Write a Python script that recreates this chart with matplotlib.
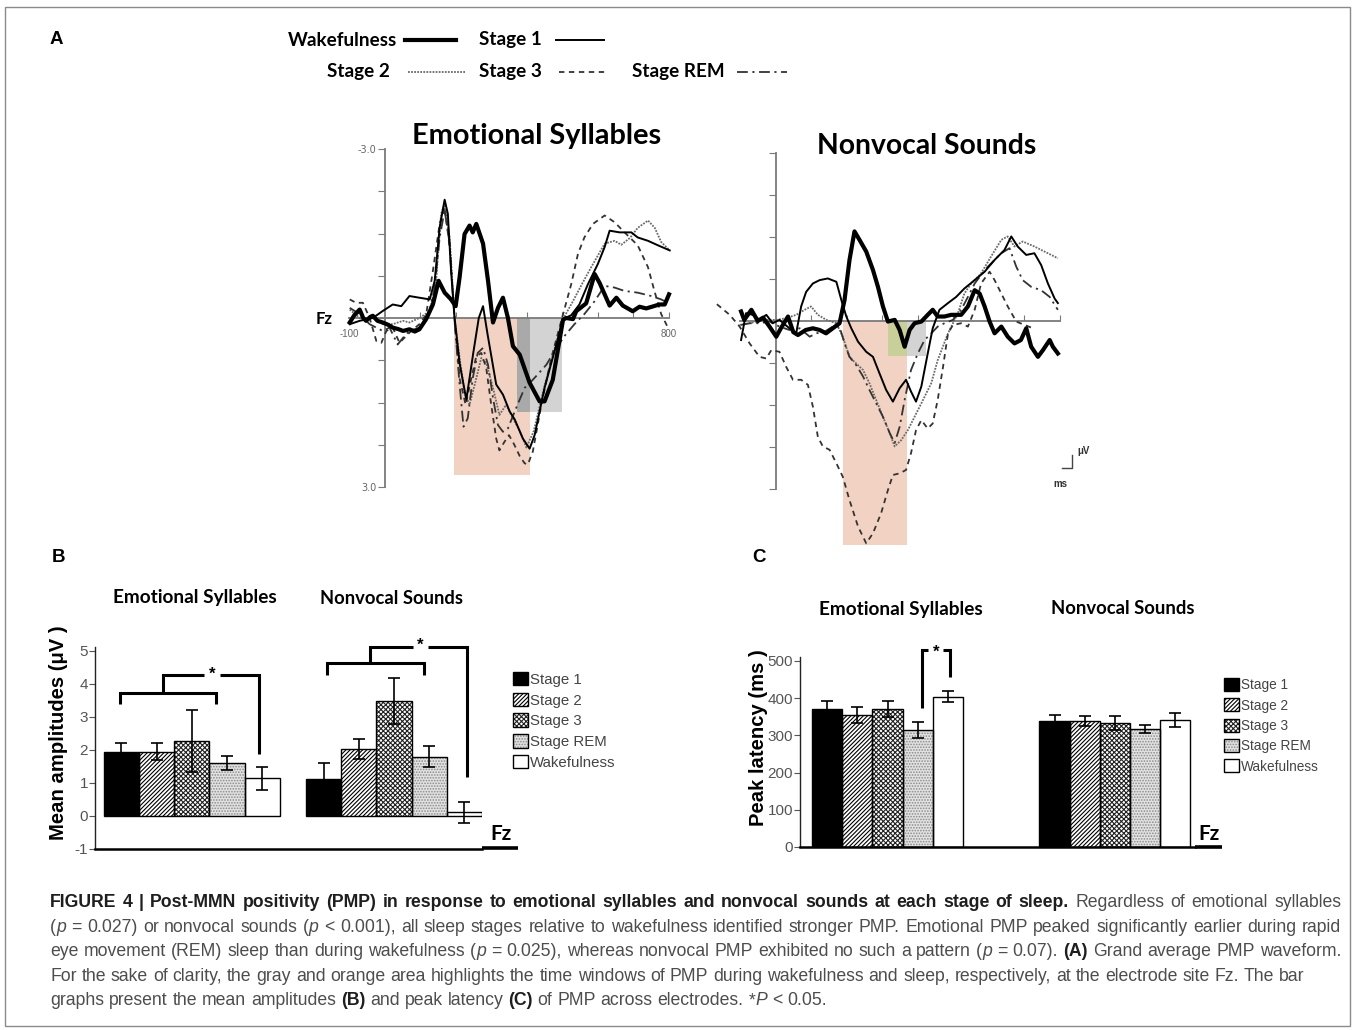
import matplotlib
matplotlib.use('Agg')
import matplotlib.pyplot as plt
from matplotlib import font_manager
from matplotlib.patches import Patch, Rectangle
from matplotlib.legend_handler import HandlerTuple
import numpy as np

# ------------------------------------------------------------------ data
stages = ['Stage 1', 'Stage 2', 'Stage 3', 'Stage REM', 'Wakefulness']
conditions = ['Emotional Syllables', 'Nonvocal Sounds']

# Panel B: mean amplitudes (uV) +- error
amp_emotional = [1.93, 1.95, 2.27, 1.60, 1.14]
amp_emotional_err = [0.27, 0.26, 0.94, 0.21, 0.34]
amp_nonvocal = [1.13, 2.02, 3.49, 1.80, 0.11]
amp_nonvocal_err = [0.47, 0.30, 0.70, 0.31, 0.31]
amp_ticks = [-1, 0, 1, 2, 3, 4, 5]

# Panel C: peak latency (ms) +- error
lat_emotional = [370, 355, 371, 314, 404]
lat_emotional_err = [22, 21, 22, 21, 14]
lat_nonvocal = [337, 339, 334, 316, 341]
lat_nonvocal_err = [18, 14, 19, 11, 20]
lat_ticks = [0, 100, 200, 300, 400, 500]

# Panel A: grand average waveforms at Fz, (ms, uV); negative plotted upward
es_wake = [(-98,0.08),(-85,-0.05),(-70,-0.15),(-60,0.0),(-52,0.05),(-40,-0.02),(-33,-0.04),(-20,0.05),(-5,0.08),(10,0.12),(23,0.17),(40,0.2),(52,0.23),(70,0.2),(85,0.24),(98,0.2),(117,0.02),(136,-0.24),(152,-0.66),(169,-0.45),(187,-0.33),(200,-0.21),(211,-0.72),(225,-1.49),(239,-1.64),(248,-1.52),(258,-1.67),(277,-1.32),(291,-0.66),(305,0.08),(319,-0.18),(333,-0.36),(347,0.0),(361,0.5),(380,0.65),(408,1.15),(436,1.48),(450,1.48),(473,1.1),(502,0.03),(511,0.0),(530,0.02),(539,-0.12),(567,-0.26),(591,-0.78),(605,-0.62),(633,-0.22),(652,-0.36),(670,-0.22),(698,-0.12),(717,-0.2),(736,-0.17),(773,-0.24),(788,-0.24),(800,-0.42)]
es_stage1 = [(-98,0.11),(-70,0.05),(-33,0.0),(-5,-0.125),(23,-0.24),(47,-0.21),(70,-0.39),(98,-0.36),(127,-0.33),(141,-0.66),(155,-1.61),(169,-2.1),(178,-1.85),(187,-0.84),(197,0.0),(211,0.8),(230,1.45),(250,0.6),(265,0.0),(277,-0.21),(290,0.3),(314,1.18),(333,1.36),(352,1.66),(366,1.8),(389,2.14),(408,2.32),(422,2.08),(450,1.24),(478,0.59),(502,0.02),(525,-0.05),(548,-0.24),(572,-0.6),(600,-0.96),(619,-1.26),(633,-1.55),(661,-1.52),(694,-1.52),(712,-1.43),(741,-1.37),(769,-1.29),(802,-1.2)]
es_stage2 = [(-98,-0.15),(-70,0.0),(-33,0.0),(-5,0.11),(23,0.11),(52,0.05),(70,0.08),(98,0.0),(127,-0.12),(145,-0.66),(159,-1.85),(169,-2.03),(183,-1.43),(197,0.0),(211,0.71),(225,1.33),(239,1.54),(258,1.07),(272,0.71),(286,0.8),(305,1.24),(323,1.72),(342,1.54),(361,1.78),(380,2.0),(399,2.3),(420,2.0),(450,1.2),(478,0.55),(502,0.02),(530,-0.3),(555,-0.6),(581,-0.9),(619,-1.32),(647,-1.37),(666,-1.3),(690,-1.42),(712,-1.6),(741,-1.73),(760,-1.6),(778,-1.35),(802,-1.2)]
es_stage3 = [(-98,-0.33),(-80,-0.27),(-61,-0.27),(-42,0.0),(-23,0.41),(-9,0.44),(5,0.23),(23,0.17),(42,0.44),(56,0.35),(75,0.23),(98,0.11),(117,-0.06),(136,-0.84),(155,-1.67),(169,-1.97),(183,-1.26),(197,0.05),(211,1.07),(228,1.54),(244,1.07),(258,0.68),(272,0.62),(286,0.89),(300,1.54),(314,2.14),(323,2.35),(337,2.2),(350,2.08),(365,2.25),(380,2.45),(394,2.58),(403,2.6),(417,2.37),(441,1.54),(469,0.71),(497,0.05),(525,-0.6),(544,-1.14),(562,-1.43),(586,-1.67),(619,-1.82),(647,-1.7),(675,-1.52),(712,-1.29),(741,-0.9),(759,-0.48),(778,-0.07),(797,0.17)]
es_rem = [(-98,-0.18),(-70,-0.07),(-42,0.11),(-5,0.23),(14,0.17),(37,0.47),(52,0.35),(70,0.23),(98,0.17),(122,0.0),(141,-0.54),(155,-1.43),(169,-1.91),(183,-1.32),(197,0.05),(211,1.18),(222,1.93),(234,1.78),(248,1.07),(262,0.62),(277,0.53),(291,0.83),(305,1.42),(319,1.9),(333,2.02),(347,1.96),(366,1.66),(394,1.24),(412,1.13),(431,1.0),(455,0.83),(478,0.59),(506,0.32),(534,0.11),(562,-0.07),(591,-0.3),(619,-0.57),(647,-0.54),(675,-0.48),(712,-0.45),(750,-0.39),(778,-0.33),(797,-0.27)]

nv_wake = [(-97,-0.17),(-88,-0.02),(-68,-0.2),(-50,0.0),(-35,-0.06),(-17,0.1),(2,0.28),(15,0.13),(35,-0.08),(50,0.2),(63,0.25),(85,0.16),(105,0.13),(124,0.16),(142,0.22),(161,0.13),(180,0.04),(194,-0.375),(208,-1.09),(222,-1.6),(236,-1.45),(255,-1.24),(274,-0.91),(288,-0.61),(302,-0.26),(316,0.01),(335,-0.02),(349,0.16),(363,0.46),(377,0.16),(391,0.04),(410,0.01),(428,-0.11),(442,-0.2),(456,-0.08),(475,-0.08),(494,-0.11),(522,-0.11),(541,-0.26),(560,-0.55),(574,-0.49),(588,-0.26),(602,0.01),(616,0.22),(635,0.1),(653,0.28),(672,0.4),(690,0.34),(705,0.13),(719,0.46),(738,0.64),(752,0.52),(771,0.34),(780,0.46),(794,0.58)]
nv_stage1 = [(-97,0.34),(-83,-0.14),(-64,-0.11),(-45,-0.02),(-26,-0.11),(-8,0.04),(11,-0.02),(39,0.13),(58,0.22),(72,-0.26),(86,-0.52),(105,-0.67),(124,-0.73),(147,-0.76),(171,-0.7),(185,-0.375),(199,-0.08),(213,0.13),(232,0.37),(255,0.55),(274,0.64),(292,0.93),(311,1.23),(330,1.44),(349,1.2),(367,1.05),(381,1.26),(395,1.44),(410,1.17),(428,0.58),(442,0.13),(461,-0.2),(485,-0.32),(508,-0.43),(531,-0.58),(560,-0.73),(588,-0.88),(616,-1.09),(644,-1.27),(663,-1.51),(681,-1.33),(705,-1.18),(728,-1.21),(747,-1.0),(766,-0.67),(785,-0.4),(794,-0.32)]
nv_stage2 = [(-101,0.07),(-73,0.04),(-35,-0.02),(2,-0.02),(30,-0.05),(58,-0.11),(82,-0.2),(100,-0.26),(119,-0.11),(143,-0.02),(171,0.04),(189,0.28),(208,0.64),(222,0.73),(246,0.875),(264,1.11),(283,1.41),(302,1.71),(321,2.0),(335,2.24),(353,2.13),(372,1.95),(391,1.71),(410,1.47),(438,1.11),(456,0.7),(485,0.22),(513,-0.14),(531,-0.49),(550,-0.67),(578,-0.85),(606,-1.15),(635,-1.45),(653,-1.51),(672,-1.33),(695,-1.42),(728,-1.33),(766,-1.21),(794,-1.12)]
nv_stage3 = [(-165,-0.3),(-129,-0.11),(-101,0.1),(-73,0.4),(-45,0.64),(-26,0.67),(-12,0.52),(11,0.55),(30,0.82),(49,1.05),(72,1.05),(91,1.14),(105,1.53),(119,2.07),(133,2.24),(152,2.3),(171,2.54),(189,2.78),(208,3.2),(232,3.67),(255,3.97),(274,3.79),(297,3.43),(316,3.02),(330,2.75),(349,2.72),(367,2.66),(381,2.36),(395,1.95),(410,1.77),(428,1.92),(442,1.83),(456,1.41),(471,0.82),(485,0.22),(499,0.07),(522,0.04),(541,0.1),(560,-0.2),(578,-0.67),(602,-0.88),(616,-0.73),(635,-0.49),(653,-0.26),(677,0.01),(700,0.07),(720,0.12)]
nv_rem = [(-97,0.07),(-73,0.04),(-45,0.04),(-17,0.01),(11,0.1),(39,0.16),(68,0.13),(96,0.28),(115,0.22),(138,0.19),(161,0.1),(180,0.1),(194,0.4),(208,0.64),(227,0.79),(246,0.99),(264,1.23),(283,1.47),(302,1.71),(321,2.0),(335,2.18),(349,1.89),(363,1.41),(381,0.875),(400,0.58),(419,0.34),(438,0.22),(456,0.1),(475,0.04),(499,-0.02),(522,-0.2),(541,-0.43),(560,-0.67),(578,-0.82),(597,-0.97),(616,-1.09),(635,-1.21),(658,-1.3),(677,-0.97),(695,-0.73),(719,-0.61),(747,-0.55),(771,-0.43),(794,-0.2)]

# PMP time windows: [start ms, end ms, extent uV]
es_sleep_win = [195, 409, 2.79]
es_wake_win = [372, 499, 1.66]
nv_sleep_win = [190, 370, 4.0]
nv_wake_win = [316, 423, 0.63]

wave_ticks = [-3.0, -2.25, -1.5, -0.75, 0.0, 0.75, 1.5, 2.25, 3.0]
wave_xticks = [100, 200, 300, 400, 500, 600, 700, 800]

# ------------------------------------------------------------------ setup
W, H = 1356, 1030
fig = plt.figure(figsize=(W / 100, H / 100), dpi=100, facecolor='white')


def has_font(name):
    try:
        font_manager.findfont(font_manager.FontProperties(family=name), fallback_to_default=False)
        return True
    except Exception:
        return False


NARROW = 'Liberation Sans Narrow' if has_font('Liberation Sans Narrow') else 'Liberation Sans'
CAL = 'Lato'
ARIAL = 'Liberation Sans'


def px_axes(l, t, r, b):
    return fig.add_axes([l / W, 1 - b / H, (r - l) / W, (b - t) / H])


ov = fig.add_axes([0, 0, 1, 1])
ov.set_xlim(0, W)
ov.set_ylim(H, 0)
ov.axis('off')
ov.set_zorder(5)
renderer = fig.canvas.get_renderer()


def measure(s, props):
    t = ov.text(0, 0, s, **props)
    w = t.get_window_extent(renderer).width
    t.remove()
    return w


def fit_size(s, target, props, ref=10.0):
    return ref * target / measure(s, dict(props, fontsize=ref))


# border
ov.add_patch(Rectangle((5, 7), 1345, 1019, fill=False, ec='#8a8a8a', lw=1.0))

# ------------------------------------------------------------------ panel A
line_styles = {
    'Wakefulness': dict(color='black', lw=3.0, ls='-'),
    'Stage 1': dict(color='black', lw=1.4, ls='-'),
    'Stage 2': dict(color='#6a6a6a', lw=1.3, ls=(0, (1, 0.7))),
    'Stage 3': dict(color='#333333', lw=1.3, ls=(0, (3, 2.5))),
    'Stage REM': dict(color='#333333', lw=1.3, ls=(0, (6, 2.5, 1.2, 2.5))),
}
ORANGE = '#f2d3c3'
LGRAY = '#d3d3d3'

ov.text(50, 40, 'A', fontsize=13.5, weight='bold', family=ARIAL, va='center', ha='left')
legA = dict(family=CAL, weight='bold', color='black')
sA = fit_size('Stage REM', 92, legA)
ov.text(397, 40, 'Wakefulness', fontsize=sA, ha='right', va='center', **legA)
ov.plot([405, 456], [40, 40], **line_styles['Wakefulness'])
ov.text(479, 40, 'Stage 1', fontsize=sA, ha='left', va='center', **legA)
ov.plot([556, 604], [40, 40], **line_styles['Stage 1'])
ov.text(390, 72, 'Stage 2', fontsize=sA, ha='right', va='center', **legA)
ov.plot([408, 465], [72, 72], **line_styles['Stage 2'])
ov.text(479, 72, 'Stage 3', fontsize=sA, ha='left', va='center', **legA)
ov.plot([559, 606], [72, 72], **line_styles['Stage 3'])
ov.text(632, 72, 'Stage REM', fontsize=sA, ha='left', va='center', **legA)
ov.plot([737, 787], [72, 72], **line_styles['Stage REM'])

titleP = dict(family=CAL, weight='bold', color='black')
ov.text(537, 136, conditions[0], fontsize=fit_size(conditions[0], 250, titleP), ha='center', va='center', **titleP)
ov.text(927, 146, conditions[1], fontsize=fit_size(conditions[1], 220, titleP), ha='center', va='center', **titleP)

curves_es = {'Wakefulness': es_wake, 'Stage 1': es_stage1, 'Stage 2': es_stage2,
             'Stage 3': es_stage3, 'Stage REM': es_rem}
curves_nv = {'Wakefulness': nv_wake, 'Stage 1': nv_stage1, 'Stage 2': nv_stage2,
             'Stage 3': nv_stage3, 'Stage REM': nv_rem}


def draw_wave(ax, curves, sleep, wake, overlap_color, labels):
    ax.set_xlim(-100, 800)
    ax.set_ylim(3, -3)
    ax.patch.set_visible(False)
    ax.fill_between([sleep[0], sleep[1]], 0, sleep[2], color=ORANGE, lw=0, zorder=1, clip_on=False)
    ax.fill_between([wake[0], wake[1]], 0, wake[2], color=LGRAY, lw=0, zorder=1.1, clip_on=False)
    o0, o1 = max(sleep[0], wake[0]), min(sleep[1], wake[1])
    ax.fill_between([o0, o1], 0, min(sleep[2], wake[2]), color=overlap_color, lw=0, zorder=1.2, clip_on=False)
    for name in ['Stage 2', 'Stage 3', 'Stage REM', 'Stage 1', 'Wakefulness']:
        t, v = zip(*curves[name])
        ax.plot(t, v, clip_on=False, zorder=3, **line_styles[name])
    for s in ['top', 'right']:
        ax.spines[s].set_visible(False)
    ax.spines['left'].set_position(('data', 0))
    ax.spines['left'].set_bounds(-3, 3)
    ax.spines['bottom'].set_position(('data', 0))
    ax.spines['bottom'].set_bounds(-100, 800)
    for s in ['left', 'bottom']:
        ax.spines[s].set_color('#7a7a7a')
        ax.spines[s].set_linewidth(1.3)
        ax.spines[s].set_zorder(2.5)
    ax.set_yticks(wave_ticks)
    if labels:
        ax.set_yticklabels(['%.1f' % wave_ticks[0]] + [''] * (len(wave_ticks) - 2) + ['%.1f' % wave_ticks[-1]])
    else:
        ax.set_yticklabels([])
    ax.set_xticks(wave_xticks)
    ax.set_xticklabels([])
    ax.tick_params(axis='y', direction='out', length=5, color='#7a7a7a', labelsize=7,
                   labelcolor='#666666', pad=1)
    ax.tick_params(axis='x', direction='in', length=4, color='#7a7a7a')


axL = px_axes(349, 149, 669, 487)
draw_wave(axL, curves_es, es_sleep_win, es_wake_win, '#a9a9a9', True)
axL.annotate('-100', xy=(-100, 0), xytext=(0, -8), textcoords='offset points', ha='center', va='top',
             fontsize=7, color='#666666', family=ARIAL)
axL.annotate('800', xy=(800, 0), xytext=(0, -8), textcoords='offset points', ha='center', va='top',
             fontsize=7, color='#666666', family=ARIAL)
axL.annotate('Fz', xy=(-100, 0), xytext=(-12, -1), textcoords='offset points', ha='right', va='center',
             fontsize=12, weight='bold', family=CAL)

axR = px_axes(740, 153, 1060, 489)
draw_wave(axR, curves_nv, nv_sleep_win, nv_wake_win, '#c8cf98', False)

# scale marker
ov.plot([1072, 1072, 1062], [455, 468, 468], color='#444444', lw=1.0)
ov.text(1077, 451, 'μV', fontsize=7, weight='bold', family=ARIAL, va='center', ha='left', color='#333333')
ov.text(1053, 484, 'ms', fontsize=7, weight='bold', family=ARIAL, va='center', ha='left', color='#333333')

# ------------------------------------------------------------------ bar panels
bar_styles = {
    'Stage 1': dict(face='black', hatch=None, hc='black'),
    'Stage 2': dict(face='white', hatch='////////', hc='black'),
    'Stage 3': dict(face='white', hatch='xxxxxxx', hc='#222222'),
    'Stage REM': dict(face='#e2e2e2', hatch='......', hc='#8a8a8a'),
    'Wakefulness': dict(face='white', hatch=None, hc='black'),
}
plt.rcParams['hatch.linewidth'] = 0.8


def draw_bars(ax, xs, vals, errs):
    for i, st in enumerate(stages):
        bs = bar_styles[st]
        ax.bar(xs[i], vals[i], width=1.0, color=bs['face'], edgecolor=bs['hc'], hatch=bs['hatch'],
               linewidth=0, zorder=2)
        ax.bar(xs[i], vals[i], width=1.0, fill=False, edgecolor='black', linewidth=1.0, zorder=3)
    ax.errorbar(xs, vals, yerr=errs, fmt='none', ecolor='black', elinewidth=1.2, capsize=4,
                capthick=1.2, zorder=4, clip_on=False)


def setup_bar_axes(ax, xlim, ylim, ticks, tsize):
    ax.set_xlim(*xlim)
    ax.set_ylim(*ylim)
    ax.patch.set_visible(False)
    ax.spines['top'].set_visible(False)
    ax.spines['right'].set_visible(False)
    ax.spines['left'].set_color('#222222')
    ax.spines['left'].set_linewidth(1.0)
    ax.spines['bottom'].set_color('black')
    ax.spines['bottom'].set_linewidth(1.8)
    ax.set_xticks([])
    ax.set_yticks(ticks)
    ax.set_yticklabels([str(t) for t in ticks], family=NARROW, fontsize=tsize, color='#555555')
    ax.tick_params(axis='y', direction='out', length=4, color='#555555', pad=1)


def bar_legend(x, y, target_w, pitch):
    props = dict(family=NARROW)
    fs = fit_size('Wakefulness', target_w, props)
    fpx = fs * 100 / 72
    handles = []
    for st in stages:
        bs = bar_styles[st]
        handles.append((Patch(facecolor=bs['face'], edgecolor=bs['hc'], hatch=bs['hatch'], linewidth=0),
                        Patch(fill=False, edgecolor='black', linewidth=1.0)))
    leg = fig.legend(handles, stages, loc='upper left', bbox_to_anchor=(x / W, 1 - y / H),
                     bbox_transform=fig.transFigure, frameon=False,
                     handler_map={tuple: HandlerTuple(ndivide=1, pad=0)},
                     handlelength=15 / fpx, handleheight=15 / fpx, handletextpad=0.12,
                     labelspacing=max(0.0, pitch / fpx - 1.16), borderpad=0, borderaxespad=0,
                     prop={'family': NARROW, 'size': fs})
    for t in leg.get_texts():
        t.set_color('#444444')
    return leg


subP = dict(family=CAL, weight='bold', color='black')

# ---- panel B
ov.text(52, 557, 'B', fontsize=13.5, weight='bold', family=ARIAL, va='center', ha='left')
ov.text(195, 598, conditions[0], fontsize=fit_size(conditions[0], 164, subP), ha='center', va='center', **subP)
ov.text(392, 598, conditions[1], fontsize=fit_size(conditions[1], 143, subP), ha='center', va='center', **subP)
axB = px_axes(95, 646.7, 482, 849)
xs_e = np.arange(5) + 0.75
xs_n = np.arange(5) + 6.5
draw_bars(axB, xs_e, amp_emotional, amp_emotional_err)
draw_bars(axB, xs_n, amp_nonvocal, amp_nonvocal_err)
setup_bar_axes(axB, (0, 11), (-1, 5.13), amp_ticks, 11)

br = dict(color='black', lw=2.2, clip_on=False, zorder=5, solid_joinstyle='miter', solid_capstyle='butt')
# emotional bracket
axB.plot([0.71, 0.71, 3.44, 3.44], [3.39, 3.74, 3.74, 3.39], **br)
axB.plot([1.94, 1.94, 3.1], [3.74, 4.27, 4.27], **br)
axB.plot([3.54, 4.67, 4.67], [4.27, 4.27, 1.88], **br)
axB.text(3.32, 4.3, '*', ha='center', va='center', fontsize=12, weight='bold', family=ARIAL)
# nonvocal bracket
axB.plot([6.59, 6.59, 9.34, 9.34], [4.27, 4.63, 4.63, 4.27], **br)
axB.plot([7.81, 7.81, 9.03], [4.63, 5.13, 5.13], **br)
axB.plot([9.47, 10.56, 10.56], [5.13, 5.13, 1.19], **br)
axB.text(9.25, 5.16, '*', ha='center', va='center', fontsize=12, weight='bold', family=ARIAL)

ylab = dict(family=ARIAL, weight='bold', color='black')
ylsize = fit_size('Peak latency (ms )', 177, ylab)
ov.text(59, 733, 'Mean amplitudes (μV )', rotation=90, ha='center', va='center', fontsize=ylsize, **ylab)
fzP = dict(family=CAL, weight='bold', color='black')
ov.text(501, 834, 'Fz', fontsize=15, ha='center', va='center', **fzP)
ov.plot([482, 518], [848, 848], color='black', lw=2.6, solid_capstyle='butt')
bar_legend(513, 672, 86, 23.3)

# ---- panel C
ov.text(752, 557, 'C', fontsize=13.5, weight='bold', family=ARIAL, va='center', ha='left')
ov.text(901, 609, conditions[0], fontsize=fit_size(conditions[0], 164, subP), ha='center', va='center', **subP)
ov.text(1123, 609, conditions[1], fontsize=fit_size(conditions[1], 144, subP), ha='center', va='center', **subP)
axC = px_axes(800, 656.7, 1195, 847)
xc_e = np.arange(5) + 0.9
xc_n = np.arange(5) + 8.43
draw_bars(axC, xc_e, lat_emotional, lat_emotional_err)
draw_bars(axC, xc_n, lat_nonvocal, lat_nonvocal_err)
setup_bar_axes(axC, (0, 13.08), (0, 511), lat_ticks, 11)
axC.plot([4.03, 4.03, 4.25], [373, 528, 528], **br)
axC.plot([4.72, 4.97, 4.97], [528, 528, 457], **br)
axC.text(4.5, 522, '*', ha='center', va='center', fontsize=12, weight='bold', family=ARIAL)
ov.text(758, 738, 'Peak latency (ms )', rotation=90, ha='center', va='center', fontsize=ylsize, **ylab)
ov.text(1209, 834, 'Fz', fontsize=15, ha='center', va='center', **fzP)
ov.plot([1195, 1222], [847, 847], color='black', lw=2.6, solid_capstyle='butt')
bar_legend(1224, 678, 78, 22)

# ------------------------------------------------------------------ caption
CAPFONT = NARROW
cap1 = [("FIGURE 4 | Post-MMN positivity (PMP) in response to emotional syllables and nonvocal sounds at each stage of sleep.", 'B'),
        (" Regardless of emotional syllables", 'N')]
cap2 = [("(", 'N'), ("p", 'I'), (" = 0.027) or nonvocal sounds (", 'N'), ("p", 'I'),
        (" < 0.001), all sleep stages relative to wakefulness identified stronger PMP. Emotional PMP peaked significantly earlier during rapid", 'N')]
cap3 = [("eye movement (REM) sleep than during wakefulness (", 'N'), ("p", 'I'),
        (" = 0.025), whereas nonvocal PMP exhibited no such a pattern (", 'N'), ("p", 'I'), (" = 0.07). ", 'N'),
        ("(A)", 'B'), (" Grand average PMP waveform.", 'N')]
cap4 = [("For the sake of clarity, the gray and orange area highlights the time windows of PMP during wakefulness and sleep, respectively, at the electrode site Fz. The bar", 'N')]
cap5 = [("graphs present the mean amplitudes ", 'N'), ("(B)", 'B'), (" and peak latency ", 'N'), ("(C)", 'B'),
        (" of PMP across electrodes. *", 'N'), ("P", 'I'), (" < 0.05.", 'N')]


def cprops(kind, size):
    d = dict(fontsize=size, family=CAPFONT, color='#4d4d4d')
    if kind == 'B':
        d.update(weight='bold', color='#1e1e1e')
    if kind == 'I':
        d.update(style='italic')
    return d


def split_words(segs):
    words = [[]]
    for text, kind in segs:
        parts = text.split(' ')
        for i, p in enumerate(parts):
            if i > 0:
                words.append([])
            if p:
                words[-1].append((p, kind))
    return [w for w in words if w]


def word_widths(words, size):
    return [[measure(p, cprops(k, size)) for p, k in w] for w in words]


x0, x1 = 50, 1341
ref = 10.0
w4 = split_words(cap4)
ww4 = word_widths(w4, ref)
sp_ref = measure('a a', cprops('N', ref)) - measure('aa', cprops('N', ref))
nat4 = sum(sum(w) for w in ww4) + sp_ref * (len(w4) - 1)
csize = ref * 1256 / nat4
space = sp_ref * csize / ref

for segs, y, just in [(cap1, 902, True), (cap2, 927, True), (cap3, 951, True), (cap4, 976, False), (cap5, 1000, False)]:
    words = split_words(segs)
    wws = word_widths(words, csize)
    total = sum(sum(w) for w in wws)
    gap = (x1 - x0 - total) / (len(words) - 1) if just else space
    if just and gap < space * 0.6:
        gap = space
    x = x0
    for word, ws in zip(words, wws):
        for (p, k), w in zip(word, ws):
            ov.text(x, y + 5, p, ha='left', va='baseline', **cprops(k, csize))
            x += w
        x += gap

fig.savefig('out.png', dpi=100, facecolor='white')
